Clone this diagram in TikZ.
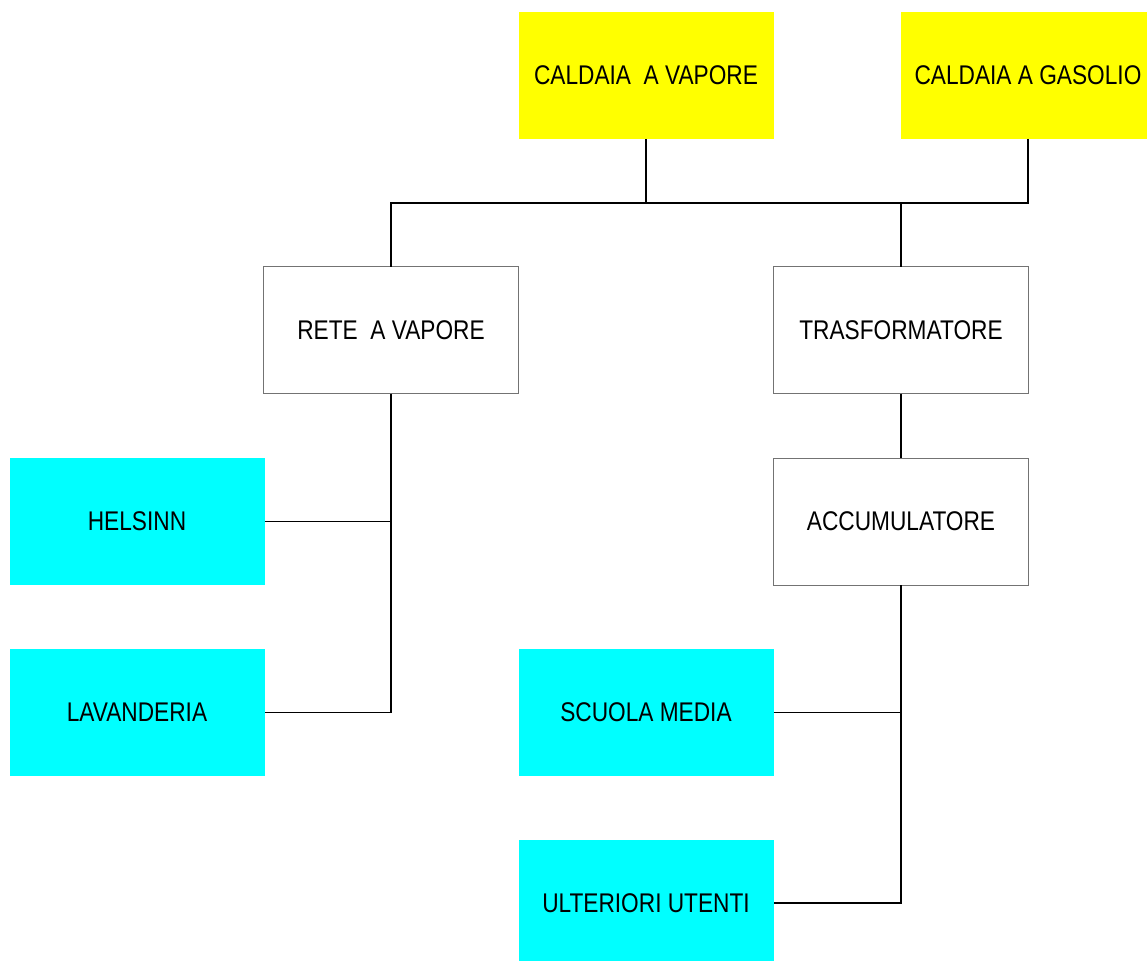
\documentclass[tikz,border=0pt]{standalone}
\usepackage{fontspec}
\usepackage{graphicx}
\setmainfont{Liberation Sans}
\definecolor{boxyellow}{HTML}{FFFF00}
\definecolor{boxcyan}{HTML}{00FFFF}
\newcommand\narrowtxt[1]{\scalebox{0.84}[1]{#1}}
\tikzset{
  basebox/.style={minimum width=255pt, minimum height=127pt, inner sep=0pt, outer sep=0pt,
    font=\fontsize{27}{30}\selectfont, text=black},
  yellowbox/.style={basebox, fill=boxyellow},
  cyanbox/.style={basebox, fill=boxcyan},
  whitebox/.style={basebox, fill=white, draw=black!55, line width=0.9pt},
  conn/.style={draw=black, line width=1.6pt}
}
\begin{document}
\begin{tikzpicture}[x=1pt,y=-1pt]
\useasboundingbox[fill=white] (0,0) rectangle (1147,960);
\node[yellowbox] (cv) at (646,75.5) {\narrowtxt{CALDAIA\ \ A VAPORE}};
\node[yellowbox] (cg) at (1028,75.5) {\narrowtxt{CALDAIA A GASOLIO}};
\node[whitebox] (rete) at (391,330) {\narrowtxt{RETE\ \ A VAPORE}};
\node[whitebox] (tras) at (901,330) {\narrowtxt{TRASFORMATORE}};
\node[cyanbox] (hel) at (137,521.5) {\narrowtxt{HELSINN}};
\node[whitebox] (acc) at (901,521.5) {\narrowtxt{ACCUMULATORE}};
\node[cyanbox] (lav) at (137,712.5) {\narrowtxt{LAVANDERIA}};
\node[cyanbox] (scu) at (646,712.5) {\narrowtxt{SCUOLA MEDIA}};
\node[cyanbox] (ult) at (646,903) {\narrowtxt{ULTERIORI UTENTI}};
\coordinate (bus) at (0,203);
\draw[conn] (cv.south) -- (cv.south |- bus);
\draw[conn] (cg.south) |- (rete.north |- bus) -- (rete.north);
\draw[conn] (tras.north) -- (tras.north |- bus);
\draw[conn] (rete.south) |- (lav.east);
\draw[conn] (hel.east) -- (hel.east -| rete.south);
\draw[conn] (tras.south) -- (acc.north);
\draw[conn] (acc.south) |- (ult.east);
\draw[conn] (scu.east) -- (scu.east -| acc.south);
\end{tikzpicture}
\end{document}
